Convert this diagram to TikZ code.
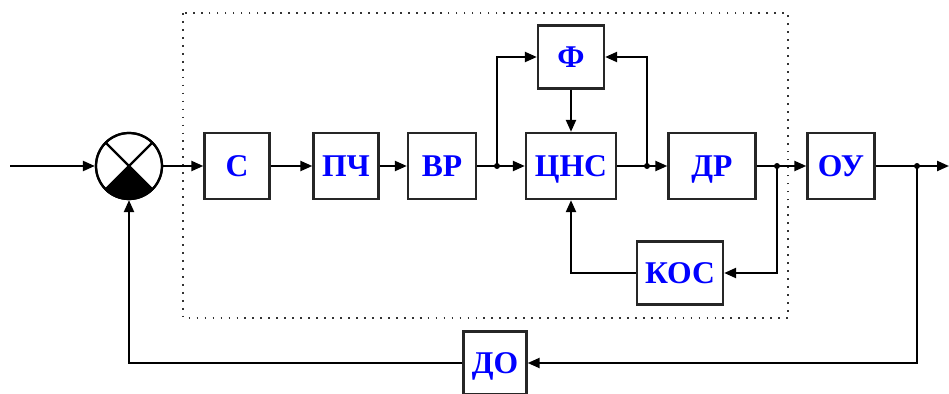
\documentclass[tikz,border=0pt]{standalone}
\usepackage{fontspec}
\setmainfont{Liberation Serif}
\usepackage{xcolor}
\usetikzlibrary{arrows.meta,positioning,calc}
\tikzset{
  blk/.style={rectangle, draw=black!85, line width=2pt, fill=white, text=blue,
              align=center, inner sep=2pt, minimum height=1.98cm, text depth=0pt,
              font=\fontsize{27}{27}\selectfont\bfseries},
  ar/.style={-{Triangle[length=3.6mm,width=3mm]}, line width=1.9pt},
  ln/.style={line width=1.9pt},
  jdot/.style={circle, fill=black, inner sep=0pt, minimum size=1.8mm}
}

\begin{document}
\begin{tikzpicture}[x=0.03cm, y=-0.03cm,
  summer/.style={circle, draw=black, line width=1.9pt, fill=white, inner sep=0pt, minimum size=1.98cm},
  frame/.style={draw=black!80, line width=1.5pt, dash pattern=on 1.5pt off 5.3pt}
]
\useasboundingbox (0,0) rectangle (949,394);
% ---- control unit frame ----
\draw[frame] (183,13) rectangle (788,318);
% ---- summing junction ----
\node[summer] (sum) at (129,166) {};
\fill[black] (sum.center) -- (sum.225) arc[start angle=225, end angle=315, radius=0.99cm] -- cycle;
\draw[ln] (sum.135) -- (sum.315);
\draw[ln] (sum.45) -- (sum.225);
\draw[ln] (sum) circle[radius=0.99cm];
% ---- forward chain ----
\node[blk, minimum width=1.95cm] (s)   at (237,166) {С};
\node[blk, minimum width=1.95cm] (pch) at (346,166) {ПЧ};
\node[blk, minimum width=2.04cm] (vr)  at (442,166) {ВР};
\node[blk, minimum width=2.7cm]  (cns) at (571,166) {ЦНС};
\node[blk, minimum width=1.98cm, minimum height=1.89cm] (phi) at (571,57) {Ф};
\node[blk, minimum width=2.61cm] (dr)  at (712,166) {ДР};
\node[blk, minimum width=2.58cm, minimum height=1.89cm] (kos) at (680,273) {КОС};
\node[blk, minimum width=2.01cm] (ou)  at (841,166) {ОУ};
\node[blk, minimum width=1.89cm, minimum height=1.89cm] (dob) at (495,363) {ДО};
% ---- branch points ----
\node[jdot] (j1) at (497,166) {};
\node[jdot] (j2) at (647,166) {};
\node[jdot] (j3) at (777,166) {};
\node[jdot] (j4) at (917,166) {};
\coordinate (in)  at (10,166);
\coordinate (out) at (949,166);
% ---- connectors ----
\draw[ar] (in) -- (sum.west);
\draw[ar] (sum.east) -- (s.west);
\draw[ar] (s) -- (pch);
\draw[ar] (pch) -- (vr);
\draw[ar] (vr) -- (cns);
\draw[ar] (j1.center) |- (phi.west);
\draw[ar] (phi) -- (cns);
\draw[ar] (cns) -- (dr);
\draw[ar] (j2.center) |- (phi.east);
\draw[ar] (dr) -- (ou);
\draw[ar] (j3.center) |- (kos.east);
\draw[ar] (kos.west) -| (cns.south);
\draw[ar] (ou.east) -- (out);
\draw[ar] (j4.center) |- (dob.east);
\draw[ar] (dob.west) -| (sum.south);
\end{tikzpicture}
\end{document}
